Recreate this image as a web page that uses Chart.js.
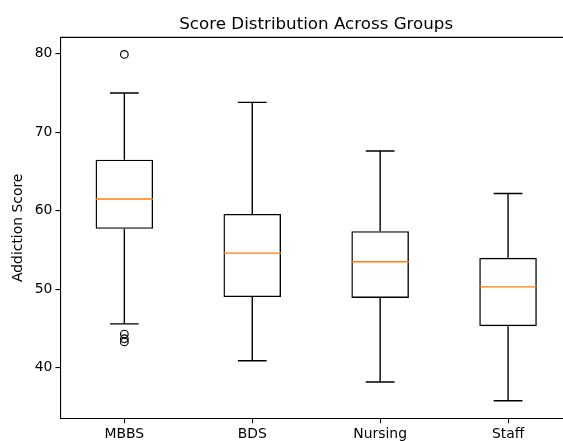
<!DOCTYPE html>
<html>
<head>
<meta charset="utf-8">
<script src="https://cdn.jsdelivr.net/npm/chart.js@4.4.1/dist/chart.umd.min.js"></script>
<style>
  html, body { margin: 0; padding: 0; background: #fff; overflow: hidden; }
  canvas { display: block; }
</style>
</head>
<body>
<canvas id="chart" width="580" height="441"></canvas>
<script>
// box plot stats
const groups    = ["MBBS", "BDS", "Nursing", "Staff"];
const positions = [1, 2, 3, 4];
const whiskLo   = [45.6, 40.9, 38.2, 35.8];
const q1        = [57.7, 49.0, 48.9, 45.3];
const medians   = [61.5, 54.6, 53.5, 50.3];
const q3        = [66.5, 59.6, 57.4, 54.0];
const whiskHi   = [75.0, 73.8, 67.6, 62.2];
const outliers  = [[79.9, 44.3, 43.7, 43.3], [], [], []];
const yTicks    = [40, 50, 60, 70, 80];

const boxHalf = 0.225;   // box width 0.45
const capHalf = 0.1125;  // caps half the box width

const boxData = positions.map((p, i) => ({ x: p, y: [q1[i], q3[i]] }));

const whiskerData = [];
positions.forEach((p, i) => {
  whiskerData.push({ x: p - capHalf, y: whiskHi[i] }, { x: p + capHalf, y: whiskHi[i] }, { x: p, y: null });
  whiskerData.push({ x: p, y: whiskHi[i] }, { x: p, y: q3[i] }, { x: p, y: null });
  whiskerData.push({ x: p, y: q1[i] }, { x: p, y: whiskLo[i] }, { x: p, y: null });
  whiskerData.push({ x: p - capHalf, y: whiskLo[i] }, { x: p + capHalf, y: whiskLo[i] }, { x: p, y: null });
});

const medianData = [];
positions.forEach((p, i) => {
  medianData.push({ x: p - boxHalf, y: medians[i] }, { x: p + boxHalf, y: medians[i] }, { x: p, y: null });
});

const flierData = [];
positions.forEach((p, i) => outliers[i].forEach(v => flierData.push({ x: p, y: v })));

// top spine; the right one sits past the visible window
const frame = {
  id: "frame",
  afterDraw(chart) {
    const { ctx, chartArea: a } = chart;
    ctx.save();
    ctx.strokeStyle = "#000";
    ctx.lineWidth = 1.1;
    ctx.beginPath();
    ctx.moveTo(a.left, a.top);
    ctx.lineTo(a.right, a.top);
    ctx.stroke();
    ctx.restore();
  }
};

const font = { family: "'DejaVu Sans'", size: 13.9 };

new Chart("chart", {
  data: {
    datasets: [{
      type: "line",
      data: medianData,
      borderColor: "#ff7f0e",
      borderWidth: 1.4,
      pointRadius: 0,
      spanGaps: false
    }, {
      type: "line",
      data: whiskerData,
      borderColor: "#000",
      borderWidth: 1.4,
      pointRadius: 0,
      spanGaps: false
    }, {
      type: "scatter",
      data: flierData,
      pointStyle: "circle",
      pointRadius: 3.8,
      borderColor: "#000",
      borderWidth: 1.2,
      backgroundColor: "rgba(0,0,0,0)"
    }, {
      type: "bar",
      data: boxData,
      borderColor: "#000",
      borderWidth: 1.4,
      borderSkipped: false,
      backgroundColor: "rgba(0,0,0,0)",
      barPercentage: 0.45,
      categoryPercentage: 1.0
    }]
  },
  options: {
    responsive: false,
    animation: false,
    layout: { padding: { left: 0, right: 8, top: 0, bottom: 0 } },
    scales: {
      x: {
        type: "linear",
        min: 0.5,
        max: 4.5,
        offset: false,
        afterBuildTicks: (s) => { s.ticks = positions.map(v => ({ value: v })); },
        afterFit: (s) => { s.height = 22.7; },
        ticks: {
          autoSkip: false,
          maxRotation: 0,
          padding: 3,
          color: "#000",
          font: font,
          callback: (v) => groups[positions.indexOf(v)]
        },
        grid: { offset: false, drawOnChartArea: false, drawTicks: true, tickLength: 5, color: "#000", lineWidth: 1.1 },
        border: { display: true, color: "#000", width: 1.1 }
      },
      y: {
        min: 33.57,
        max: 82.08,
        afterBuildTicks: (s) => { s.ticks = yTicks.map(v => ({ value: v })); },
        afterFit: (s) => { s.width = 60.4; },
        ticks: { padding: 3, color: "#000", font: font },
        grid: { drawOnChartArea: false, drawTicks: true, tickLength: 5, color: "#000", lineWidth: 1.1 },
        border: { display: true, color: "#000", width: 1.1 },
        title: {
          display: true,
          text: "Addiction Score",
          color: "#000",
          font: font,
          padding: { top: 9.7, bottom: 0 }
        }
      }
    },
    plugins: {
      legend: { display: false },
      tooltip: { enabled: false },
      title: {
        display: true,
        text: "Score Distribution Across Groups",
        fullSize: false,
        color: "#000",
        font: { family: "'DejaVu Sans'", size: 16.7, weight: "normal" },
        padding: { top: 14.3, bottom: 3 }
      }
    }
  },
  plugins: [frame]
});
</script>
</body>
</html>
